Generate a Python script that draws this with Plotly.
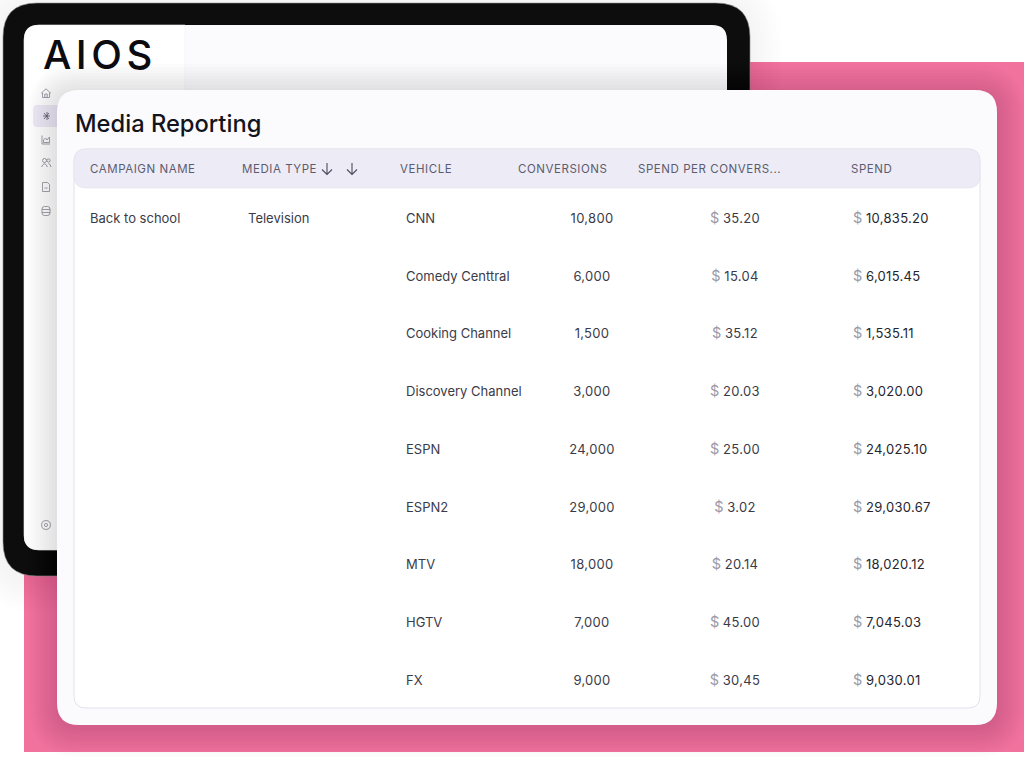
import plotly.graph_objects as go

# table content
HEADERS = ["CAMPAIGN NAME", "MEDIA TYPE", "VEHICLE", "CONVERSIONS", "SPEND PER CONVERS...", "SPEND"]
CAMPAIGNS = ["Back to school"]
MEDIA_TYPES = ["Television"]
VEHICLES = ["CNN", "Comedy Centtral", "Cooking Channel", "Discovery Channel", "ESPN",
            "ESPN2", "MTV", "HGTV", "FX"]
CONVERSIONS = ["10,800", "6,000", "1,500", "3,000", "24,000", "29,000", "18,000", "7,000", "9,000"]
SPEND_PER = ["35.20", "15.04", "35.12", "20.03", "25.00", "3.02", "20.14", "45.00", "30,45"]
SPEND = ["10,835.20", "6,015.45", "1,535.11", "3,020.00", "24,025.10", "29,030.67",
         "18,020.12", "7,045.03", "9,030.01"]

FONT = "Inter"
ROW_TOP = 219.6
ROW_STEP = 57.75


def rounded(x0, y0, x1, y1, r):
    """Rounded rectangle as an svg path"""
    return (f"M{x0 + r},{y0} L{x1 - r},{y0} Q{x1},{y0} {x1},{y0 + r} L{x1},{y1 - r} "
            f"Q{x1},{y1} {x1 - r},{y1} L{x0 + r},{y1} Q{x0},{y1} {x0},{y1 - r} "
            f"L{x0},{y0 + r} Q{x0},{y0} {x0 + r},{y0} Z")


def box(x0, y0, x1, y1, r, fill, line=None, opacity=1, width=1):
    return dict(type="path", path=rounded(x0, y0, x1, y1, r), xref="x", yref="y2", layer="below",
                fillcolor=fill, opacity=opacity,
                line=dict(color=line or "rgba(0,0,0,0)", width=width if line else 0))


def stroke(path, color="#8d8d9c", width=0.8):
    return dict(type="path", path=path, xref="x", yref="y2", layer="below",
                fillcolor="rgba(0,0,0,0)", line=dict(color=color, width=width))


def circle(cx, cy, r):
    return rounded(cx - r, cy - r, cx + r, cy + r, r)


def arrow(cx, cy):
    return f"M{cx},{cy - 6} L{cx},{cy + 5.5} M{cx - 5},{cy + 0.5} L{cx},{cy + 5.5} L{cx + 5},{cy + 0.5}"


def spaced(text, px):
    return f'<span style="letter-spacing:{px}px">{text}</span>'


shapes = [box(24, 62, 1040, 752, 0, "#f2729e")]

# soft shadow of the tablet
for grow in range(2, 34, 3):
    shapes.append(box(3 - grow, 3 - grow + 4, 750 + grow, 576 + grow + 4, 34 + grow, "#202030", opacity=0.005))
shapes.append(box(3, 3, 750, 576, 34, "#0d0d0d", line="#8f8f8f", width=0.6))
shapes.append(box(24, 25, 727, 550, 15, "#fbfbfd"))
shapes.append(dict(type="path", xref="x", yref="y2", layer="below", fillcolor="#ffffff",
                   path="M39,25 L185,25 L185,550 L39,550 Q24,550 24,535 L24,40 Q24,25 39,25 Z",
                   line=dict(color="#f1f1f4", width=0.6)))
shapes.append(box(33, 105, 66, 127, 4, "#efeaf8"))

# sidebar icons
x = 46
shapes += [
    stroke(f"M{x - 4.5},93 L{x},88.8 L{x + 4.5},93 L{x + 3.5},93 L{x + 3.5},97.5 L{x - 3.5},97.5 L{x - 3.5},93 Z"
           f" M{x - 1.2},97.5 L{x - 1.2},94 L{x + 1.2},94 L{x + 1.2},97.5"),
    stroke(f"M{x + 1},112 L{x + 1},120 M{x - 3},116 L{x + 4},116 M{x - 2},113 L{x + 3},119 "
           f"M{x + 3},113 L{x - 2},119", color="#5f5f70"),
    stroke(f"M{x - 4},135.5 L{x - 4},144 L{x + 4},144 M{x - 2.5},142.5 L{x - 2.5},140 L{x - 0.5},138 "
           f"L{x + 1},140 L{x + 3.5},137 L{x + 3.5},142.5 Z"),
    stroke(circle(x - 1.5, 160.5, 2) + f" M{x - 4.5},167 Q{x - 1.5},160.5 {x + 1.5},167 "
           + circle(x + 2.5, 160.5, 1.6) + f" M{x + 2.5},163.5 Q{x + 4.5},164 {x + 5},167"),
    stroke(f"M{x - 3.5},182.5 L{x + 1.5},182.5 L{x + 3.5},184.5 L{x + 3.5},191.5 L{x - 3.5},191.5 Z "
           f"M{x - 1.5},188 L{x + 1.5},188"),
    stroke(rounded(x - 4, 206.5, x + 4, 215.5, 2.5) + f" M{x - 4},209.5 L{x + 4},209.5 M{x - 4},212.5 L{x + 4},212.5"),
    stroke(circle(x, 525, 4.4) + circle(x, 525, 1.6)),
]

# shadow of the report card over the pink and the tablet
for grow in range(2, 32, 3):
    shapes.append(box(57 - grow, 90 - grow + 3, 997 + grow, 725 + grow + 3, 22 + grow, "#1c1422", opacity=0.011))
shapes.append(box(57, 90, 997, 725, 22, "#fbfbfe"))
shapes.append(box(74, 149, 980, 708, 12, "#ffffff", line="#e2e1ea", width=1))
shapes.append(box(74, 149, 980, 188, 12, "#edebf6", line="#e2e1ea", width=0.6))
shapes.append(stroke(arrow(327, 169), color="#4c4c5c", width=1.1))
shapes.append(stroke(arrow(352, 169), color="#4c4c5c", width=1.1))

fig = go.Figure()


def add_column(x_pos, rows, labels, position, color="#3b3b48", size=13):
    fig.add_trace(go.Scatter(x=[x_pos] * len(labels), y=rows, text=labels, mode="text",
                             textposition=position, hoverinfo="skip", cliponaxis=False, showlegend=False,
                             textfont=dict(family=FONT, size=size, color=color)))


rows = list(range(len(VEHICLES)))
dollar = '<span style="color:#9a9aa8;font-size:14.5px">$</span>\u00a0'
add_column(90, rows[:1], CAMPAIGNS, "middle right")
add_column(248, rows[:1], MEDIA_TYPES, "middle right")
add_column(406, rows, VEHICLES, "middle right")
add_column(592, rows, [spaced(v, 0.3) for v in CONVERSIONS], "middle center")
add_column(735, rows, [dollar + spaced(v, 0.3) for v in SPEND_PER], "middle center")
add_column(853, rows, [dollar + spaced(v, 0.3) for v in SPEND], "middle right", color="#25252e")

header_x = [88, 240, 398, 516, 636, 849]
annotations = [dict(x=hx, y=169, xref="x", yref="y2", text=spaced(h, 0.55), showarrow=False, xanchor="left",
                    yanchor="middle", font=dict(family=FONT, size=11.5, color="#5c5c6e"))
               for hx, h in zip(header_x, HEADERS)]
annotations.append(dict(x=73, y=123, xref="x", yref="y2", text="Media Reporting", showarrow=False, xanchor="left",
                        yanchor="middle", font=dict(family=FONT, size=23.7, weight=500, color="#14141d")))
annotations.append(dict(x=41, y=54, xref="x", yref="y2", text=spaced("AIOS", 4.5), showarrow=False, xanchor="left",
                        yanchor="middle", font=dict(family=FONT, size=40, weight=500, color="#0c0c10")))

fig.update_layout(width=1024, height=768, margin=dict(l=0, r=0, t=0, b=0),
                  paper_bgcolor="#ffffff", plot_bgcolor="#ffffff", shapes=shapes, annotations=annotations,
                  xaxis=dict(range=[0, 1024], visible=False, fixedrange=True),
                  yaxis=dict(range=[(768 - ROW_TOP) / ROW_STEP, -ROW_TOP / ROW_STEP], visible=False, fixedrange=True),
                  yaxis2=dict(range=[768, 0], visible=False, overlaying="y", fixedrange=True))
fig.write_html("out.html", config=dict(displayModeBar=False),
               post_script="document.body.style.margin='0';document.body.style.overflow='hidden';")
